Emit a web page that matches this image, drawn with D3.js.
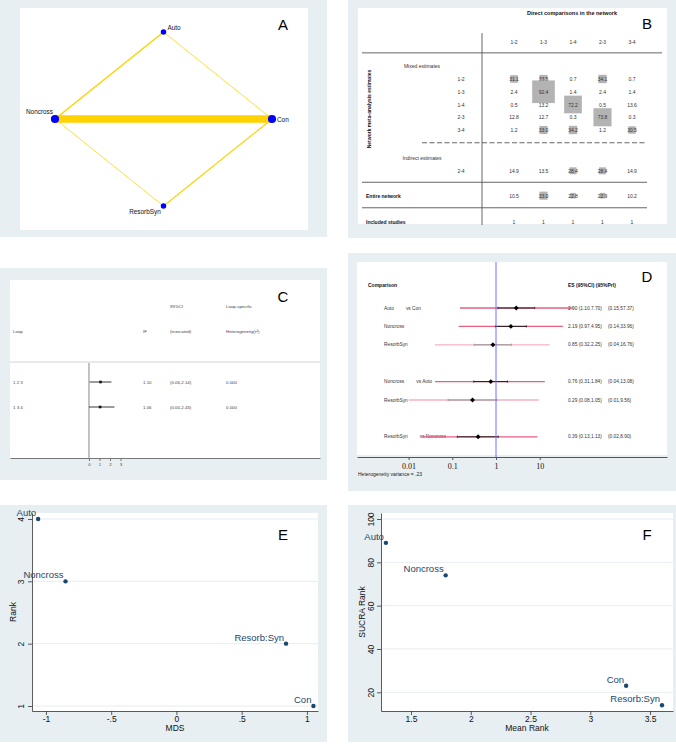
<!DOCTYPE html>
<html>
<head>
<meta charset="utf-8">
<script src="https://cdn.jsdelivr.net/npm/d3@7"></script>
<style>
body { margin: 0; background: #fff; }
svg { display: block; font-family: "Liberation Sans", Arial, sans-serif; }
</style>
</head>
<body>
<svg id="fig" width="676" height="744"></svg>
<script>
// ---- A: network ----
var treatments = ["Auto", "Con", "ResorbSyn", "Noncross"]; // clockwise from the top
var nodeWeight = [1, 2.2, 1, 2.2];
var edgeFrom = ["Noncross", "Noncross", "Auto", "Noncross", "ResorbSyn"];
var edgeTo = ["Con", "Auto", "Con", "ResorbSyn", "Con"];
var edgeWeight = [10, 2, 1, 1, 1.5];

// ---- B: contribution matrix ----
var directCols = ["1-2", "1-3", "1-4", "2-3", "3-4"];
var mixedRows = ["1-2", "1-3", "1-4", "2-3", "3-4"];
var mixedContrib = [
    [31.1, 33.5, 0.7, 34.1, 0.7],
    [2.4, 92.4, 1.4, 2.4, 1.4],
    [0.5, 13.2, 72.2, 0.5, 13.6],
    [12.8, 12.7, 0.3, 73.8, 0.3],
    [1.2, 33.0, 34.2, 1.2, 30.5]
];
var indirectRows = ["2-4"];
var indirectContrib = [[14.9, 13.5, 28.4, 28.4, 14.9]];
var entireNetwork = [10.5, 33.0, 22.8, 22.9, 10.2];
var includedStudies = [1, 1, 1, 1, 1];

// ---- C: loop inconsistency ----
var loops = ["1 2 3", "1 3 4"];
var loopIF = [1.10, 1.06];
var loopLo = [0.06, 0.00];
var loopHi = [2.14, 2.43];
var loopTau2 = [0.000, 0.000];
var ifTicks = [0, 1, 2, 3];

// ---- D: interval plot ----
var compTreat = ["Auto", "Noncross", "ResorbSyn", "Noncross", "ResorbSyn", "ResorbSyn"];
var compRef = ["Con", "Con", "Con", "Auto", "Auto", "Noncross"];
var compES = [2.90, 2.19, 0.85, 0.76, 0.29, 0.39];
var ciLo = [1.10, 0.97, 0.32, 0.31, 0.08, 0.13];
var ciHi = [7.70, 4.95, 2.25, 1.84, 1.05, 1.13];
var priLo = [0.15, 0.14, 0.04, 0.04, 0.01, 0.02];
var priHi = [57.37, 33.96, 16.76, 13.08, 9.56, 8.90];
var esTicks = [0.01, 0.1, 1, 10];
var hetVariance = ".23";

// ---- E / F: ranking ----
var rankNames = ["Auto", "Noncross", "Resorb:Syn", "Con"];
var mds = [-1.06, -0.85, 0.84, 1.05];
var rank = [4, 3, 2, 1];
var meanRank = [1.29, 1.79, 3.60, 3.30];
var sucra = [89, 74, 14, 23];

var bgGray = "#e8eff2";
var gridCol = "#e3ebee";
var navy = "#1a476f";
var svg = d3.select("#fig");

function frame(ox, oy, ow, oh, ix, iy, iw, ih) {
    svg.append("rect").attr("x", ox).attr("y", oy).attr("width", ow).attr("height", oh).attr("fill", bgGray);
    svg.append("rect").attr("x", ix).attr("y", iy).attr("width", iw).attr("height", ih).attr("fill", "#fff");
}
function letter(t, x, y) {
    svg.append("text").attr("x", x).attr("y", y).attr("text-anchor", "middle")
        .attr("font-size", 15).attr("fill", "#000").text(t);
}
function txt(g, x, y, s, size, opt) {
    opt = opt || {};
    return g.append("text").attr("x", x).attr("y", y)
        .attr("font-size", size)
        .attr("text-anchor", opt.anchor || "start")
        .attr("font-weight", opt.bold ? "bold" : null)
        .attr("fill", opt.fill || "#333")
        .attr("dominant-baseline", opt.central ? "central" : null)
        .text(s);
}

frame(0, 0, 327, 237, 20, 8, 288, 222);
frame(348, 0, 328, 238, 358, 8, 309, 216);
frame(0, 268, 327, 212, 10, 280, 310, 178);
frame(348, 253, 328, 238, 357, 262, 310, 193);
frame(0, 505, 327, 237, 32, 513, 286, 198);
frame(348, 505, 328, 237, 381, 513, 292, 198);

/*
 * A: network plot
 */
(function() {
    var g = svg.append("g");
    var ang = d3.scalePoint().domain(treatments).range([0, 270]);
    var ax = d3.scaleLinear().domain([-1, 1]).range([55, 272]);
    var ay = d3.scaleLinear().domain([-1, 1]).range([206, 32]);
    var wScale = d3.scaleLinear().domain([0, d3.max(edgeWeight)]).range([0, 7.5]);
    var rScale = d3.scaleSqrt().domain([0, d3.max(nodeWeight)]).range([0, 4.1]);
    function pos(name) {
        var a = ang(name) * Math.PI / 180;
        return [ax(Math.sin(a)), ay(Math.cos(a))];
    }
    g.selectAll("line.edge").data(edgeFrom).enter().append("line")
        .attr("x1", function(d) { return pos(d)[0]; })
        .attr("y1", function(d) { return pos(d)[1]; })
        .attr("x2", function(d, i) { return pos(edgeTo[i])[0]; })
        .attr("y2", function(d, i) { return pos(edgeTo[i])[1]; })
        .attr("stroke", "#ffd200")
        .attr("stroke-width", function(d, i) { return wScale(edgeWeight[i]); });
    g.selectAll("circle").data(treatments).enter().append("circle")
        .attr("cx", function(d) { return pos(d)[0]; })
        .attr("cy", function(d) { return pos(d)[1]; })
        .attr("r", function(d, i) { return rScale(nodeWeight[i]); })
        .attr("fill", "#0000ff");
    // label placement by position on the diamond: top, right, bottom, left
    var lab = [
        { dx: 4, dy: -2, anchor: "start" },
        { dx: 5, dy: 2.5, anchor: "start" },
        { dx: -18.5, dy: 8, anchor: "middle" },
        { dx: -2, dy: -5, anchor: "end" }
    ];
    treatments.forEach(function(t, i) {
        var p = pos(t), l = lab[i];
        txt(g, p[0] + l.dx, p[1] + l.dy, t, 6.4, { anchor: l.anchor, fill: "#111" });
    });
    letter("A", 283, 30);
})();

/*
 * B: contribution matrix
 */
(function() {
    var g = svg.append("g");
    var bx = d3.scalePoint().domain(directCols).range([514, 632]);
    var by = d3.scaleLinear().domain([0, 1]).range([79, 91.75]); // row slot -> y
    var box = d3.scaleLinear().domain([0, 100]).range([0, 24.5]);
    var fs = 5;

    txt(g, 572, 15, "Direct comparisons in the network", 5.5, { anchor: "middle", bold: true, fill: "#111" });
    letter("B", 647, 29);

    g.append("line").attr("x1", 482).attr("x2", 482).attr("y1", by(-3.6)).attr("y2", by(11.45))
        .attr("stroke", "#555").attr("stroke-width", 0.9);
    g.append("line").attr("x1", 362).attr("x2", 662).attr("y1", by(-2.05)).attr("y2", by(-2.05))
        .attr("stroke", "#555").attr("stroke-width", 0.9);
    g.append("line").attr("x1", 422).attr("x2", 647).attr("y1", by(5)).attr("y2", by(5))
        .attr("stroke", "#555").attr("stroke-width", 0.9).attr("stroke-dasharray", "5,2.5");
    [8.1, 10.1].forEach(function(s) {
        g.append("line").attr("x1", 362).attr("x2", 647).attr("y1", by(s)).attr("y2", by(s))
            .attr("stroke", "#555").attr("stroke-width", 0.9);
    });

    directCols.forEach(function(c) {
        txt(g, bx(c), by(-2.9), c, fs, { anchor: "middle", central: true });
    });
    txt(g, 422, by(-1), "Mixed estimates", fs, { anchor: "middle", central: true });
    txt(g, 422, by(6.2), "Indirect estimates", fs, { anchor: "middle", central: true });
    txt(g, 366, by(9.15), "Entire network", fs, { bold: true, central: true, fill: "#111" });
    txt(g, 366, by(11.2), "Included studies", fs, { bold: true, central: true, fill: "#111" });
    g.append("text").attr("transform", "translate(371," + by(2.35) + ") rotate(-90)")
        .attr("text-anchor", "middle").attr("font-size", 5).attr("font-weight", "bold")
        .attr("fill", "#111").text("Network meta-analysis estimates");

    function row(label, values, slot, boxes) {
        if (label) txt(g, 461, by(slot), label, fs, { anchor: "middle", central: true });
        values.forEach(function(v, j) {
            if (boxes && v >= 20) {
                var s = box(v);
                g.append("rect").attr("x", bx(directCols[j]) - s / 2).attr("y", by(slot) - s / 2)
                    .attr("width", s).attr("height", s).attr("fill", "#b3b3b3");
            }
        });
        values.forEach(function(v, j) {
            txt(g, bx(directCols[j]), by(slot), boxes ? v.toFixed(1) : String(v), fs,
                { anchor: "middle", central: true });
        });
    }
    mixedRows.forEach(function(r, i) { row(r, mixedContrib[i], i, true); });
    indirectRows.forEach(function(r, i) { row(r, indirectContrib[i], 7.2 + i, true); });
    row(null, entireNetwork, 9.15, true);
    row(null, includedStudies, 11.2, false);
})();

/*
 * C: inconsistency loops
 */
(function() {
    var g = svg.append("g");
    var cx = d3.scaleLinear().domain([-7.52, 22]).range([10, 320]);
    var cy = d3.scaleLinear().domain([0, 1]).range([382, 407]);
    var fs = 4.4, col = "#444";
    letter("C", 283, 302);

    txt(g, 170, cy(-3.04), "95%CI", fs, { central: true, fill: col });
    txt(g, 226, cy(-3.04), "Loop-specific", fs, { central: true, fill: col });
    txt(g, 13, cy(-2.04), "Loop", fs, { central: true, fill: col });
    txt(g, 143, cy(-2.04), "IF", fs, { central: true, fill: col });
    txt(g, 170, cy(-2.04), "(truncated)", fs, { central: true, fill: col });
    txt(g, 226, cy(-2.04), "Heterogeneity(\u03c4\u00b2)", fs, { central: true, fill: col });

    g.append("line").attr("x1", 10).attr("x2", 320).attr("y1", cy(-0.8)).attr("y2", cy(-0.8))
        .attr("stroke", "#c8c8c8").attr("stroke-width", 0.8);
    g.append("line").attr("x1", cx(0)).attr("x2", cx(0)).attr("y1", cy(-0.76)).attr("y2", 458)
        .attr("stroke", "#888").attr("stroke-width", 1);

    loops.forEach(function(l, i) {
        var y = cy(i);
        txt(g, 13, y, l, fs, { central: true, fill: col });
        g.append("line").attr("x1", cx(Math.max(0, loopLo[i]))).attr("x2", cx(loopHi[i]))
            .attr("y1", y).attr("y2", y).attr("stroke", "#222").attr("stroke-width", 0.9);
        g.append("rect").attr("x", cx(loopIF[i]) - 1.3).attr("y", y - 1.3)
            .attr("width", 2.6).attr("height", 2.6).attr("fill", "#111");
        txt(g, 143, y, loopIF[i].toFixed(2), fs, { central: true, fill: col });
        txt(g, 170, y, "(" + loopLo[i].toFixed(2) + "," + loopHi[i].toFixed(2) + ")", fs, { central: true, fill: col });
        txt(g, 226, y, loopTau2[i].toFixed(3), fs, { central: true, fill: col });
    });

    var axis = g.append("g").attr("transform", "translate(0,458)")
        .call(d3.axisBottom(cx).tickValues(ifTicks).tickSize(3).tickPadding(2).tickSizeOuter(0));
    axis.select(".domain").attr("stroke", "#777");
    axis.selectAll(".tick line").attr("stroke", "#777");
    axis.selectAll("text").attr("font-size", 4.4).attr("fill", col)
        .attr("font-family", "Liberation Sans, Arial, sans-serif");
})();

/*
 * D: interval plot of effect sizes
 */
(function() {
    var g = svg.append("g");
    var dx = d3.scaleLog().domain([Math.pow(10, -3.181), Math.pow(10, 3.913)]).range([357, 667]);
    var dy = d3.scaleLinear().domain([0, 1]).range([308, 326.4]);
    var refs = Array.from(new Set(compRef));
    var faded = [2, 4]; // rows drawn in the lighter shade
    var fs = 4.8;
    letter("D", 647, 282);

    txt(g, 368, dy(-1.25), "Comparison", 5, { bold: true, central: true, fill: "#111" });
    txt(g, 568, dy(-1.25), "ES (95%CI) (95%PrI)", 5, { bold: true, central: true, fill: "#111" });

    compTreat.forEach(function(t, i) {
        var slot = i + refs.indexOf(compRef[i]);
        var y = dy(slot);
        var light = faded.indexOf(i) >= 0;
        var name = txt(g, 384, y, t, fs, { central: true });
        if (i === 0 || compRef[i] !== compRef[i - 1]) {
            var w = name.node().getComputedTextLength();
            txt(g, 384 + w + 12, y, "vs " + compRef[i], fs, { central: true });
        }
        g.append("line").attr("x1", dx(priLo[i])).attr("x2", dx(priHi[i])).attr("y1", y).attr("y2", y)
            .attr("stroke", light ? "#f4b2c2" : "#e65f7f").attr("stroke-width", 1.3);
        var ciCol = light ? "#8c8c8c" : "#111";
        g.append("line").attr("x1", dx(ciLo[i])).attr("x2", dx(ciHi[i])).attr("y1", y).attr("y2", y)
            .attr("stroke", ciCol).attr("stroke-width", 0.9);
        [ciLo[i], ciHi[i]].forEach(function(v) {
            g.append("line").attr("x1", dx(v)).attr("x2", dx(v)).attr("y1", y - 1.3).attr("y2", y + 1.3)
                .attr("stroke", ciCol).attr("stroke-width", 0.6);
        });
        g.append("path").attr("d", d3.symbol(d3.symbolSquare, 12)())
            .attr("transform", "translate(" + dx(compES[i]) + "," + y + ") rotate(45)")
            .attr("fill", "#000");
        txt(g, 568, y, compES[i].toFixed(2) + " (" + ciLo[i].toFixed(2) + "," + ciHi[i].toFixed(2) + ")", fs, { central: true });
        txt(g, 608, y, "(" + priLo[i].toFixed(2) + "," + priHi[i].toFixed(2) + ")", fs, { central: true });
    });

    g.append("line").attr("x1", dx(1)).attr("x2", dx(1)).attr("y1", 262).attr("y2", 457)
        .attr("stroke", "#7070ff").attr("stroke-width", 1);

    var axis = g.append("g").attr("transform", "translate(0,457)")
        .call(d3.axisBottom(dx).tickValues(esTicks).tickFormat(function(d) { return String(d); })
            .tickSize(3).tickPadding(3).tickSizeOuter(0));
    axis.select(".domain").attr("stroke", "#555");
    axis.selectAll(".tick line").attr("stroke", "#555");
    axis.selectAll("text").attr("font-size", 8).attr("fill", "#111")
        .attr("font-family", "Liberation Serif, Times New Roman, serif");
    txt(g, 358, 476, "Heterogeneity variance = " + hetVariance, 5, { fill: "#222" });
})();

/*
 * E and F: scatter of ranks
 */
function scatterPanel(xs, ys, xDom, yDom, left, right, xTicks, xFmt, yTicks, xTitle, yTitle, yTitleX, yLabOff) {
    var top = 513, bottom = 711;
    var x = d3.scaleLinear().domain(xDom).range([left, right]);
    var y = d3.scaleLinear().domain(yDom).range([bottom, top]);
    var g = svg.append("g");
    g.selectAll("line.grid").data(yTicks).enter().append("line")
        .attr("x1", left).attr("x2", right)
        .attr("y1", function(d) { return y(d); }).attr("y2", function(d) { return y(d); })
        .attr("stroke", gridCol).attr("stroke-width", 0.9);

    var xa = g.append("g").attr("transform", "translate(0," + bottom + ")")
        .call(d3.axisBottom(x).tickValues(xTicks).tickFormat(xFmt).tickSize(4).tickPadding(1).tickSizeOuter(0));
    var ya = g.append("g").attr("transform", "translate(" + left + ",0)")
        .call(d3.axisLeft(y).tickValues(yTicks).tickFormat(function(d) { return String(d); }).tickSize(4).tickSizeOuter(0));
    [xa, ya].forEach(function(a) {
        a.select(".domain").attr("stroke", "#333").attr("stroke-width", 0.8);
        a.selectAll(".tick line").attr("stroke", "#333").attr("stroke-width", 0.8);
        a.selectAll("text").attr("font-size", 8.5).attr("fill", "#111")
            .attr("font-family", "Liberation Sans, Arial, sans-serif");
    });
    ya.selectAll("text").attr("transform", "rotate(-90)").attr("x", 0).attr("y", -yLabOff)
        .attr("dy", 0).attr("text-anchor", "middle");

    txt(g, (left + right) / 2, 731, xTitle, 8.5, { anchor: "middle", fill: "#111" });
    g.append("text").attr("transform", "translate(" + yTitleX + "," + (top + bottom) / 2 + ") rotate(-90)")
        .attr("text-anchor", "middle").attr("font-size", 8.5).attr("fill", "#111").text(yTitle);

    g.selectAll("circle").data(xs).enter().append("circle")
        .attr("cx", function(d) { return x(d); })
        .attr("cy", function(d, i) { return y(ys[i]); })
        .attr("r", 2.2).attr("fill", navy);
    rankNames.forEach(function(n, i) {
        txt(g, x(xs[i]) - 2, y(ys[i]) - 3, n, 9.5, { anchor: "end", fill: navy });
    });
}

function stataFmt(d) { return String(d).replace(/^(-?)0\./, "$1."); }

scatterPanel(mds, rank, [-1.107, 1.085], [0.92, 4.096], 32, 318,
    [-1, -0.5, 0, 0.5, 1], stataFmt, [1, 2, 3, 4], "MDS", "Rank", 16, 8);
letter("E", 283, 540);

scatterPanel(meanRank, sucra, [1.249, 3.692], [11.38, 102.77], 381, 673,
    [1.5, 2, 2.5, 3, 3.5], stataFmt, [20, 40, 60, 80, 100], "Mean Rank", "SUCRA Rank", 365, 7);
letter("F", 647, 540);
</script>
</body>
</html>
